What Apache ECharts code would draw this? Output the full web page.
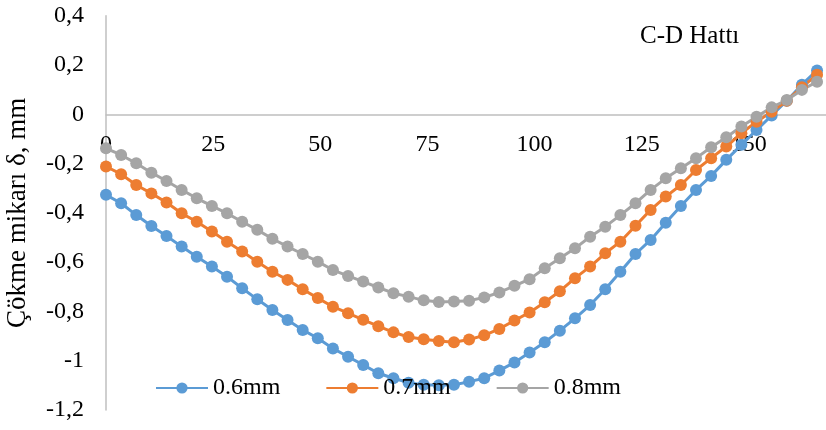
<!DOCTYPE html>
<html>
<head>
<meta charset="utf-8">
<script src="https://cdn.jsdelivr.net/npm/echarts@6/dist/echarts.min.js"></script>
<style>html,body{margin:0;padding:0;background:#fff}#c{width:826px;height:430px}</style>
</head>
<body>
<div id="c"></div>
<script>
var xValues = [0, 3.53, 7.06, 10.59, 14.12, 17.65, 21.18, 24.71, 28.24, 31.77, 35.3, 38.83, 42.36, 45.89, 49.42, 52.95, 56.48, 60.01, 63.54, 67.07, 70.6, 74.13, 77.66, 81.19, 84.72, 88.25, 91.78, 95.31, 98.84, 102.37, 105.9, 109.43, 112.96, 116.49, 120.02, 123.55, 127.08, 130.61, 134.14, 137.67, 141.2, 144.73, 148.26, 151.79, 155.32, 158.85, 162.38, 165.91];
var s06 = [-0.327, -0.361, -0.409, -0.453, -0.494, -0.537, -0.578, -0.618, -0.659, -0.706, -0.751, -0.794, -0.835, -0.875, -0.909, -0.950, -0.984, -1.017, -1.051, -1.071, -1.089, -1.098, -1.100, -1.098, -1.085, -1.071, -1.040, -1.007, -0.967, -0.925, -0.878, -0.828, -0.774, -0.710, -0.639, -0.567, -0.510, -0.440, -0.372, -0.307, -0.250, -0.185, -0.124, -0.064, -0.005, 0.055, 0.120, 0.178];
var s07 = [-0.212, -0.243, -0.287, -0.321, -0.358, -0.402, -0.436, -0.476, -0.517, -0.557, -0.598, -0.639, -0.672, -0.710, -0.746, -0.781, -0.807, -0.834, -0.860, -0.885, -0.904, -0.913, -0.920, -0.925, -0.914, -0.897, -0.871, -0.837, -0.804, -0.763, -0.718, -0.665, -0.618, -0.564, -0.517, -0.452, -0.388, -0.334, -0.287, -0.226, -0.178, -0.131, -0.077, -0.030, 0.010, 0.055, 0.110, 0.160];
var s08 = [-0.138, -0.165, -0.199, -0.237, -0.271, -0.307, -0.341, -0.372, -0.402, -0.436, -0.469, -0.505, -0.537, -0.567, -0.598, -0.632, -0.656, -0.679, -0.703, -0.726, -0.740, -0.755, -0.762, -0.760, -0.757, -0.743, -0.723, -0.696, -0.669, -0.625, -0.584, -0.544, -0.497, -0.456, -0.409, -0.361, -0.307, -0.260, -0.219, -0.178, -0.134, -0.093, -0.050, -0.010, 0.028, 0.058, 0.099, 0.132];
var seriesNames = ['0.6mm', '0.7mm', '0.8mm'];
var colors = ['#5B9BD5', '#ED7D31', '#A5A5A5'];
var titleText = 'C-D Hattı';
var yName = 'Çökme mikarı δ, mm';

function pairs(ys) { return ys.map(function (y, i) { return [xValues[i], y]; }); }
var FONT = 'Liberation Serif';
var chart = echarts.init(document.getElementById('c'));
var all = [s06, s07, s08];
var Y_MIN = -1.2, Y_MAX = 0.4, GRID_TOP = 15.7, GRID_BOTTOM = 20;
var plotH = 430 - GRID_TOP - GRID_BOTTOM;
var zeroOffset = -plotH * (0 - Y_MIN) / (Y_MAX - Y_MIN);
chart.setOption({
  animation: false,
  title: { text: titleText, left: 635, top: 19, textStyle: { fontFamily: FONT, fontSize: 25, fontWeight: 'normal', color: '#000' } },
  legend: {
    left: 150, top: 371, itemWidth: 52, itemHeight: 14, itemGap: 45,
    textStyle: { fontFamily: FONT, fontSize: 24, color: '#000' },
    data: seriesNames
  },
  grid: { left: 106, right: 0, top: GRID_TOP, bottom: GRID_BOTTOM, containLabel: false, outerBoundsMode: 'none' },
  xAxis: {
    type: 'value', min: 0, max: 168, interval: 25, position: 'bottom', offset: zeroOffset,
    axisLine: { onZero: false, lineStyle: { color: '#BFBFBF', width: 1.5 } },
    axisTick: { show: false }, splitLine: { show: false },
    axisLabel: { showMaxLabel: false, margin: 18, fontFamily: FONT, fontSize: 24, color: '#000' }
  },
  yAxis: {
    type: 'value', min: Y_MIN, max: Y_MAX, interval: 0.2,
    name: yName, nameLocation: 'middle', nameGap: 75, nameRotate: 90,
    nameTextStyle: { fontFamily: FONT, fontSize: 27, color: '#000' },
    axisLine: { show: true, onZero: false, lineStyle: { color: '#BFBFBF', width: 1.5 } },
    axisTick: { show: false }, splitLine: { show: false },
    axisLabel: { margin: 22, fontFamily: FONT, fontSize: 24, color: '#000',
      formatter: function (v) { return String(+v.toFixed(1)).replace('.', ','); } }
  },
  series: all.map(function (d, i) {
    return {
      name: seriesNames[i], type: 'line', data: pairs(d),
      symbol: 'circle', symbolSize: 12, showAllSymbol: true,
      lineStyle: { width: 3, color: colors[i] },
      itemStyle: { color: colors[i] },
      clip: false
    };
  })
});
</script>
</body>
</html>
